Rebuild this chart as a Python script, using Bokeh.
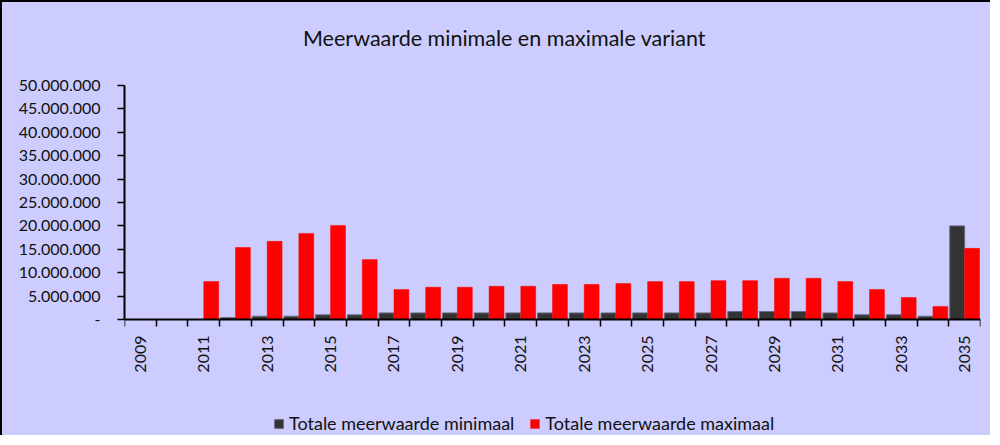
import math
from bokeh.plotting import figure
from bokeh.models import (Range1d, FixedTicker, Legend, LegendItem, Label,
                          ColumnDataSource)
from bokeh.embed import file_html
from bokeh.resources import INLINE

# ---- data (values in euros) ----
years = list(range(2009, 2036))
minimaal = [0, 0, 0, 0.4, 0.7, 0.7, 1.0, 1.0, 1.4, 1.4, 1.4, 1.4, 1.4, 1.4,
            1.4, 1.4, 1.4, 1.4, 1.4, 1.7, 1.7, 1.7, 1.4, 1.0, 1.0, 0.7, 20.0]
maximaal = [0, 0, 8.1, 15.4, 16.7, 18.4, 20.1, 12.8, 6.4, 6.9, 6.9, 7.1, 7.1,
            7.5, 7.5, 7.7, 8.1, 8.1, 8.3, 8.3, 8.8, 8.8, 8.1, 6.4, 4.7, 2.8, 15.2]
minimaal = [v * 1e6 for v in minimaal]
maximaal = [v * 1e6 for v in maximaal]
y_ticks = [0, 5e6, 10e6, 15e6, 20e6, 25e6, 30e6, 35e6, 40e6, 45e6, 50e6]
y_labels = ["-", "5.000.000", "10.000.000", "15.000.000", "20.000.000",
            "25.000.000", "30.000.000", "35.000.000", "40.000.000",
            "45.000.000", "50.000.000"]
title_text = "Meerwaarde minimale en maximale variant"
series_names = ["Totale meerwaarde minimaal", "Totale meerwaarde maximaal"]

BG = "#CCCCFF"
FONT = "Lato"

# layout (pixels inside the figure canvas)
W, H = 990, 435
LEFT = 122
PLOT_TOP = 83      # pixel of the top y tick
PLOT_BOTTOM = 317  # pixel of the zero line
y_max = y_ticks[-1]
scale = y_max / (PLOT_BOTTOM - PLOT_TOP)
y_hi = y_max + PLOT_TOP * scale
y_lo = -(H - PLOT_BOTTOM) * scale

idx = list(range(len(years)))
src = ColumnDataSource(dict(
    xmin=[i + 0.265 for i in idx],
    xmax=[i + 0.735 for i in idx],
    vmin=minimaal,
    vmax=maximaal,
))

p = figure(width=W, height=H, output_backend="svg", toolbar_location=None,
           x_range=Range1d(0, len(years)), y_range=Range1d(y_lo, y_hi),
           min_border_left=LEFT, min_border_right=12, min_border_top=0,
           min_border_bottom=0,
           styles={"border-left": "2px solid black", "border-top": "2px solid black",
                   "background-color": BG})
p.title.visible = False
p.background_fill_color = None
p.border_fill_color = BG
p.outline_line_color = None
p.grid.visible = False

r_min = p.vbar(x="xmin", width=0.47, top="vmin", bottom=0, source=src,
               fill_color="#333333", line_color="#6A6A82", line_width=1)
r_max = p.vbar(x="xmax", width=0.47, top="vmax", bottom=0, source=src,
               fill_color="#FF0000", line_color="#FF0000", line_width=0.5)

# x axis at zero: ticks at category boundaries (minor), labels at centers (major)
xa = p.xaxis[0]
xa.fixed_location = 0
label_pos = [i + 0.5 for i in idx if i % 2 == 0]
xa.ticker = FixedTicker(ticks=label_pos,
                        minor_ticks=[float(i) for i in range(len(years) + 1)])
xa.major_label_overrides = {i + 0.5: str(years[i]) for i in idx if i % 2 == 0}
xa.major_label_orientation = math.pi / 2
xa.major_tick_out = 0
xa.major_tick_in = 0
xa.minor_tick_out = 7
xa.minor_tick_in = 0
xa.minor_tick_line_color = "black"
xa.minor_tick_line_width = 1.5
xa.axis_line_color = "black"
xa.axis_line_width = 2
xa.major_label_standoff = 9
xa.major_label_text_font = FONT
xa.major_label_text_font_size = "16px"
xa.major_label_text_color = "#111111"

ya = p.yaxis[0]
ya.bounds = (0, y_max)
ya.ticker = FixedTicker(ticks=y_ticks)
ya.major_label_overrides = {t: l for t, l in zip(y_ticks, y_labels)}
ya.major_tick_out = 7
ya.major_tick_in = 0
ya.minor_tick_out = 0
ya.minor_tick_in = 0
ya.major_tick_line_width = 1.5
ya.axis_line_width = 2
ya.major_label_standoff = 17
ya.major_label_text_font = FONT
ya.major_label_text_font_size = "16px"
ya.major_label_text_color = "#111111"

title = Label(x=380, y=H - 35, x_units="screen", y_units="screen", text=title_text,
              text_align="center", text_baseline="middle", text_font=FONT,
              text_font_size="21.5px", text_color="#111111")
p.add_layout(title)

legend = Legend(items=[LegendItem(label=series_names[0], renderers=[r_min]),
                       LegendItem(label=series_names[1], renderers=[r_max])],
                orientation="horizontal", location=(149, 3),
                background_fill_alpha=0, border_line_color=None,
                padding=0, margin=0, spacing=15, label_standoff=5,
                glyph_width=11, glyph_height=11,
                label_text_font=FONT, label_text_font_size="18px",
                label_text_color="#111111")
p.add_layout(legend, "center")

open("out.html", "w").write(file_html(p, INLINE))
